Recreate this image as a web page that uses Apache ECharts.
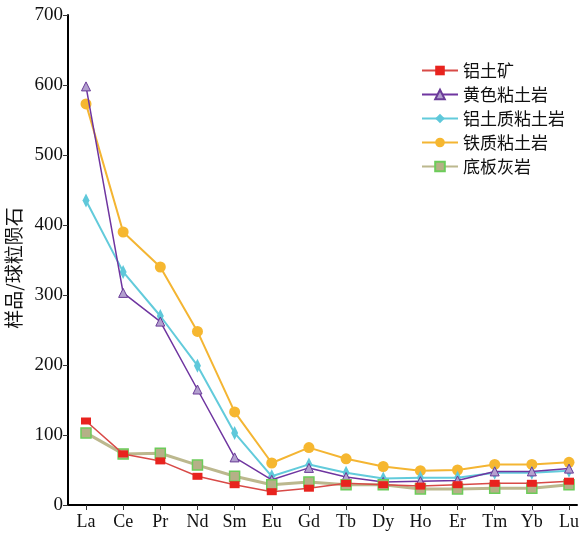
<!DOCTYPE html>
<html>
<head>
<meta charset="utf-8">
<script src="https://cdn.jsdelivr.net/npm/echarts@6/dist/echarts.min.js"></script>
<style>
  html, body { margin: 0; padding: 0; background: #fff; }
  #chart { width: 583px; height: 535px; }
</style>
</head>
<body>
<div id="chart"></div>
<script>
// REE elements (x-axis)
const elements = ['La', 'Ce', 'Pr', 'Nd', 'Sm', 'Eu', 'Gd', 'Tb', 'Dy', 'Ho', 'Er', 'Tm', 'Yb', 'Lu'];

// chondrite-normalised values per rock type
const bauxite       = [120, 73, 63, 41, 29, 19, 24, 31, 29, 27, 29, 31, 31, 34];
const yellowClay    = [598, 303, 262, 165, 68, 36, 53, 40, 33, 34, 35, 48, 48, 52];
const bauxiticClay  = [435, 333, 270, 199, 103, 41, 58, 46, 38, 39, 39, 46, 46, 49];
const ferricClay    = [573, 390, 340, 248, 133, 60, 82, 66, 55, 49, 50, 58, 58, 61];
const floorLimestone = [103, 73, 74, 57, 41, 29, 33, 29, 29, 23, 23, 24, 24, 29];

const seriesNames = ['铝土矿', '黄色粘土岩', '铝土质粘土岩', '铁质粘土岩', '底板灰岩'];

const yTicks = { min: 0, max: 700, interval: 100 };
const yName = '样品/球粒陨石';

const serif = '"Liberation Serif", "DejaVu Serif", serif';
const cjk = '"Noto Sans CJK SC", sans-serif';

const chart = echarts.init(document.getElementById('chart'), null, { renderer: 'canvas' });

chart.setOption({
  animation: false,
  backgroundColor: '#ffffff',
  grid: [
    { left: 86, right: 14, top: 15, bottom: 30, containLabel: false, outerBoundsMode: 'none' },
    { left: 68, right: 6, top: 15, bottom: 30, containLabel: false, outerBoundsMode: 'none' }
  ],
  legend: {
    orient: 'vertical',
    left: 416,
    top: 57,
    itemWidth: 36,
    itemHeight: 12,
    itemGap: 7,
    textStyle: { fontFamily: cjk, fontSize: 17, color: '#111' },
    data: seriesNames
  },
  xAxis: [
    {
      type: 'category',
      gridIndex: 0,
      data: elements,
      boundaryGap: false,
      axisLine: { show: false },
      axisTick: { show: true, alignWithLabel: true, length: 5, lineStyle: { color: '#333', width: 1 } },
      axisLabel: { fontFamily: serif, fontSize: 18, color: '#111', margin: 8 },
      splitLine: { show: false }
    },
    {
      type: 'value',
      gridIndex: 1,
      min: 0,
      max: 1,
      axisLine: { show: true, lineStyle: { color: '#000', width: 2 } },
      axisTick: { show: false },
      axisLabel: { show: false },
      splitLine: { show: false }
    }
  ],
  yAxis: [
    {
      type: 'value',
      gridIndex: 0,
      min: yTicks.min,
      max: yTicks.max,
      interval: yTicks.interval,
      offset: 18,
      name: yName,
      nameLocation: 'middle',
      nameGap: 44,
      nameRotate: 90,
      nameTextStyle: { fontFamily: cjk, fontSize: 19, color: '#111', padding: [0, 16, 0, 0] },
      axisLine: { show: true, lineStyle: { color: '#000', width: 2 } },
      axisTick: { show: true, length: 5, lineStyle: { color: '#333', width: 1 } },
      axisLabel: { fontFamily: serif, fontSize: 19, color: '#111', margin: 5 },
      splitLine: { show: false }
    },
    {
      type: 'value',
      gridIndex: 1,
      show: false,
      min: 0,
      max: 1
    }
  ],
  series: [
    {
      name: seriesNames[0],
      type: 'line',
      data: bauxite,
      symbol: 'rect',
      symbolSize: [10, 7],
      itemStyle: { color: '#e8231e' },
      lineStyle: { color: '#d84a47', width: 1.5 },
      z: 6
    },
    {
      name: seriesNames[1],
      type: 'line',
      data: yellowClay,
      symbol: 'triangle',
      symbolSize: 9,
      itemStyle: { color: '#b3a0cf', borderColor: '#6a3c98', borderWidth: 1 },
      lineStyle: { color: '#6f35a0', width: 1.5 },
      z: 4
    },
    {
      name: seriesNames[2],
      type: 'line',
      data: bauxiticClay,
      symbol: 'diamond',
      symbolSize: [7, 14],
      itemStyle: { color: '#5fc8da' },
      lineStyle: { color: '#62cbdb', width: 2 },
      z: 3
    },
    {
      name: seriesNames[3],
      type: 'line',
      data: ferricClay,
      symbol: 'circle',
      symbolSize: 11,
      itemStyle: { color: '#f6b730' },
      lineStyle: { color: '#f4b532', width: 2 },
      z: 2
    },
    {
      name: seriesNames[4],
      type: 'line',
      data: floorLimestone,
      symbol: 'rect',
      symbolSize: 10,
      itemStyle: { color: '#b5b087', borderColor: '#6ccc5a', borderWidth: 1.5 },
      lineStyle: { color: '#bcb88e', width: 3 },
      z: 5
    }
  ]
});
</script>
</body>
</html>
